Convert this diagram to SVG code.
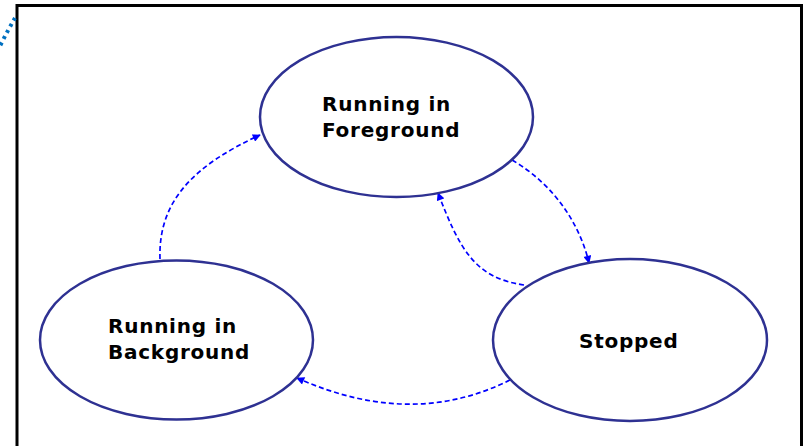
<svg xmlns="http://www.w3.org/2000/svg" width="803" height="446" viewBox="0 0 803 446">
<defs>
<style>
.node ellipse{fill:#fff;stroke:#2E3192;stroke-width:2.5}
.node text{font-family:"DejaVu Sans",Verdana,sans-serif;font-weight:bold;font-size:20px;letter-spacing:0.75px;fill:#000}
.conn path{fill:none;stroke:#0000FF;stroke-width:1.7;stroke-dasharray:5 3}
</style>
<marker id="ah" viewBox="0 0 10 10" refX="9" refY="5" markerWidth="9" markerHeight="8" orient="auto" markerUnits="userSpaceOnUse">
<path d="M0,0 L10,5 L0,10 z" fill="#0000FF"/>
</marker>
</defs>
<rect x="0" y="0" width="803" height="446" fill="#fff"/>
<path d="M17,446 V5.5 H801.5 V446" fill="none" stroke="#000" stroke-width="3"/>
<path d="M15,18 Q8,30 0,46" fill="none" stroke="#0070C0" stroke-width="4" stroke-dasharray="3 4"/>
<g class="conn">
<path d="M160,259 C158,200 195,165 260,135" marker-end="url(#ah)"/>
<path d="M512,160 C555,185 580,225 589,263" marker-end="url(#ah)"/>
<path d="M524,285 C475,278 460,250 438,193" marker-end="url(#ah)"/>
<path d="M510,380 C450,410 380,415 297,378" marker-end="url(#ah)"/>
</g>
<g id="foreground" class="node">
<ellipse cx="396.5" cy="117" rx="136.5" ry="80"/>
<text x="322" y="111">Running in</text>
<text x="322" y="137">Foreground</text>
</g>
<g id="background" class="node">
<ellipse cx="176.5" cy="340" rx="136.5" ry="79.5"/>
<text x="108" y="333">Running in</text>
<text x="108" y="359">Background</text>
</g>
<g id="stopped" class="node">
<ellipse cx="630" cy="340" rx="137" ry="81"/>
<text x="579" y="348">Stopped</text>
</g>
</svg>
